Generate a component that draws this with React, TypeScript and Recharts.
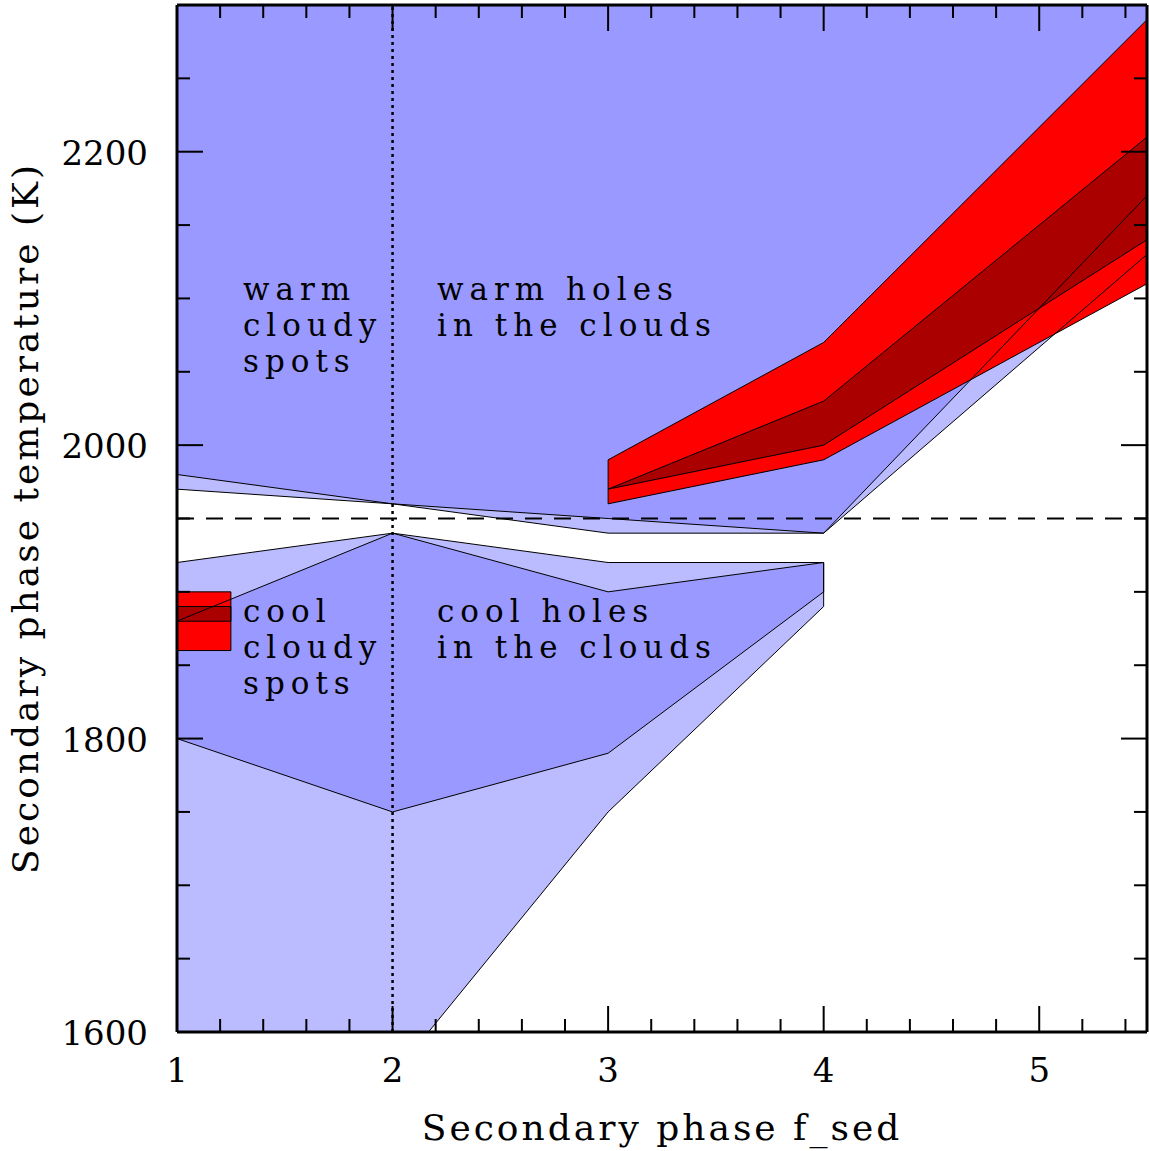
import React from 'react';
import { ComposedChart, Area, Line, XAxis, YAxis, ReferenceLine } from 'recharts';

const W = 1149;
const H = 1151;

// Axis ranges and ticks
const X_DOMAIN = [1, 5.5];
const Y_DOMAIN = [1600, 2300];
const X_MAJOR = [1, 2, 3, 4, 5];
const X_MINOR = [1.2, 1.4, 1.6, 1.8, 2.2, 2.4, 2.6, 2.8, 3.2, 3.4, 3.6, 3.8, 4.2, 4.4, 4.6, 4.8, 5.2, 5.4];
const Y_MAJOR = [1600, 1800, 2000, 2200];
const Y_MINOR = [1650, 1700, 1750, 1850, 1900, 1950, 2050, 2100, 2150, 2250, 2300];

// Warm cloudy spots / warm holes region (upper blue)
const FSED_WARM = [1, 2, 3, 4, 5.5];
const WARM_OUTER_LOW = [1970, 1960, 1940, 1940, 2130];
const WARM_INNER_LOW = [1980, 1960, 1950, 1940, 2170];
const WARM_TOP = [2300, 2300, 2300, 2300, 2300];

// Cool cloudy spots / cool holes region (lower blue)
const FSED_COOL = [1, 2, 3, 4];
const COOL_OUTER_LOW = [1600, 1570, 1750, 1890];
const COOL_OUTER_HIGH = [1920, 1940, 1920, 1920];
const COOL_INNER_LOW = [1800, 1750, 1790, 1900];
const COOL_INNER_HIGH = [1880, 1940, 1900, 1920];

// Red constraint region
const FSED_RED = [3, 4, 5.5];
const RED_OUTER_LOW = [1960, 1990, 2110];
const RED_OUTER_HIGH = [1990, 2070, 2290];
const RED_INNER_LOW = [1970, 2000, 2140];
const RED_INNER_HIGH = [1970, 2030, 2210];

// Small red block at f_sed 1
const FSED_SPOT = [1, 1.25];
const SPOT_OUTER_LOW = [1860, 1860];
const SPOT_OUTER_HIGH = [1900, 1900];
const SPOT_INNER_LOW = [1880, 1880];
const SPOT_INNER_HIGH = [1890, 1890];

const DASHED_T = 1950;
const DOTTED_F = 2;

const LIGHT_BLUE = '#bbbbff';
const DARK_BLUE = '#9999ff';
const RED = '#ff0000';
const DARK_RED = '#aa0000';

function band(xs: number[], lo: number[], hi: number[]) {
  return xs.map((f, i) => ({ f, t: [lo[i], hi[i]] }));
}
function ring(xs: number[], lo: number[], hi: number[]) {
  const pts: { f: number; t: number }[] = xs.map((f, i) => ({ f, t: lo[i] }));
  for (let i = xs.length - 1; i >= 0; i--) pts.push({ f: xs[i], t: hi[i] });
  pts.push({ ...pts[0] });
  return pts;
}

const POLYS = [
  { id: 'wo', xs: FSED_WARM, lo: WARM_OUTER_LOW, hi: WARM_TOP, fill: LIGHT_BLUE },
  { id: 'wi', xs: FSED_WARM, lo: WARM_INNER_LOW, hi: WARM_TOP, fill: DARK_BLUE },
  { id: 'co', xs: FSED_COOL, lo: COOL_OUTER_LOW, hi: COOL_OUTER_HIGH, fill: LIGHT_BLUE },
  { id: 'ci', xs: FSED_COOL, lo: COOL_INNER_LOW, hi: COOL_INNER_HIGH, fill: DARK_BLUE },
  { id: 'ro', xs: FSED_RED, lo: RED_OUTER_LOW, hi: RED_OUTER_HIGH, fill: RED },
  { id: 'ri', xs: FSED_RED, lo: RED_INNER_LOW, hi: RED_INNER_HIGH, fill: DARK_RED },
  { id: 'so', xs: FSED_SPOT, lo: SPOT_OUTER_LOW, hi: SPOT_OUTER_HIGH, fill: RED },
  { id: 'si', xs: FSED_SPOT, lo: SPOT_INNER_LOW, hi: SPOT_INNER_HIGH, fill: DARK_RED },
];

const FONT = '"DejaVu Serif", serif';
const MAJ = 26;
const MIN = 13;

const BottomTick = (p: any) => {
  const v = p.payload.value;
  const major = X_MAJOR.includes(v);
  return (
    <g>
      <line x1={p.x} y1={p.y} x2={p.x} y2={p.y - (major ? MAJ : MIN)} stroke="#000" strokeWidth={2} />
      {major && (
        <text x={p.x} y={p.y + 50} textAnchor="middle" fontFamily={FONT} fontSize={34} fill="#000">
          {v}
        </text>
      )}
    </g>
  );
};
const TopTick = (p: any) => {
  const v = p.payload.value;
  const major = X_MAJOR.includes(v);
  return <line x1={p.x} y1={p.y} x2={p.x} y2={p.y + (major ? MAJ : MIN)} stroke="#000" strokeWidth={2} />;
};
const LeftTick = (p: any) => {
  const v = p.payload.value;
  const major = Y_MAJOR.includes(v);
  return (
    <g>
      <line x1={p.x} y1={p.y} x2={p.x + (major ? MAJ : MIN)} y2={p.y} stroke="#000" strokeWidth={2} />
      {major && (
        <text x={p.x - 29} y={p.y + 13} textAnchor="end" fontFamily={FONT} fontSize={34} fill="#000">
          {v}
        </text>
      )}
    </g>
  );
};
const RightTick = (p: any) => {
  const v = p.payload.value;
  const major = Y_MAJOR.includes(v);
  return <line x1={p.x} y1={p.y} x2={p.x - (major ? MAJ : MIN)} y2={p.y} stroke="#000" strokeWidth={2} />;
};

const X_TICKS = [...X_MAJOR, ...X_MINOR].sort((a, b) => a - b);
const Y_TICKS = [...Y_MAJOR, ...Y_MINOR].sort((a, b) => a - b);

const LABELS = [
  { x: 243, y: 300, lines: ['warm', 'cloudy', 'spots'] },
  { x: 437, y: 300, lines: ['warm holes', 'in the clouds'] },
  { x: 243, y: 622, lines: ['cool', 'cloudy', 'spots'] },
  { x: 437, y: 622, lines: ['cool holes', 'in the clouds'] },
];

export default function App() {
  return (
    <div style={{ position: 'relative', width: W, height: H, background: '#fff' }}>
      <style>{'body{margin:0;background:#fff}'}</style>
      <ComposedChart width={W} height={H} margin={{ top: 0, right: 0, bottom: 0, left: 0 }}>
        <XAxis xAxisId="b" dataKey="f" type="number" domain={X_DOMAIN} allowDataOverflow orientation="bottom"
          height={119} ticks={X_TICKS} interval={0} tickSize={0} tickMargin={0} tickLine={false}
          axisLine={{ stroke: '#000', strokeWidth: 3 }} tick={<BottomTick />} />
        <XAxis xAxisId="t" dataKey="f" type="number" domain={X_DOMAIN} allowDataOverflow orientation="top"
          height={5} ticks={X_TICKS} interval={0} tickSize={0} tickMargin={0} tickLine={false}
          axisLine={{ stroke: '#000', strokeWidth: 3 }} tick={<TopTick />} />
        <YAxis yAxisId="l" type="number" domain={Y_DOMAIN} allowDataOverflow orientation="left"
          width={177} ticks={Y_TICKS} interval={0} tickSize={0} tickMargin={0} tickLine={false}
          axisLine={{ stroke: '#000', strokeWidth: 3 }} tick={<LeftTick />} />
        <YAxis yAxisId="r" type="number" domain={Y_DOMAIN} allowDataOverflow orientation="right"
          width={2} ticks={Y_TICKS} interval={0} tickSize={0} tickMargin={0} tickLine={false}
          axisLine={{ stroke: '#000', strokeWidth: 3 }} tick={<RightTick />} />
        {POLYS.map((p) => (
          <Area key={'a' + p.id} xAxisId="b" yAxisId="l" data={band(p.xs, p.lo, p.hi)} dataKey="t" type="linear"
            fill={p.fill} fillOpacity={1} stroke="none" isAnimationActive={false} dot={false} activeDot={false} />
        ))}
        {POLYS.map((p) => (
          <Line key={'l' + p.id} xAxisId="b" yAxisId="l" data={ring(p.xs, p.lo, p.hi)} dataKey="t" type="linear"
            stroke="#000" strokeWidth={1} dot={false} activeDot={false} isAnimationActive={false} />
        ))}
        <ReferenceLine xAxisId="b" yAxisId="l" y={DASHED_T} stroke="#000" strokeWidth={2} strokeDasharray="17 12" />
        <ReferenceLine xAxisId="b" yAxisId="l" x={DOTTED_F} stroke="#000" strokeWidth={2.5} strokeDasharray="3 4" />
      </ComposedChart>
      <svg width={W} height={H} style={{ position: 'absolute', left: 0, top: 0, pointerEvents: 'none' }}>
        {LABELS.map((l, i) =>
          l.lines.map((s, j) => (
            <text key={i + '-' + j} x={l.x} y={l.y + j * 36} fontFamily={FONT} fontSize={31} letterSpacing={6}
              fill="#000" style={{ whiteSpace: 'pre' }}>
              {s}
            </text>
          ))
        )}
        <text x={662} y={1140} textAnchor="middle" fontFamily={FONT} fontSize={36} letterSpacing={3} fill="#000">
          Secondary phase f_sed
        </text>
        <text transform="translate(38,518) rotate(-90)" textAnchor="middle" fontFamily={FONT} fontSize={36}
          letterSpacing={3} fill="#000">
          Secondary phase temperature (K)
        </text>
      </svg>
    </div>
  );
}
